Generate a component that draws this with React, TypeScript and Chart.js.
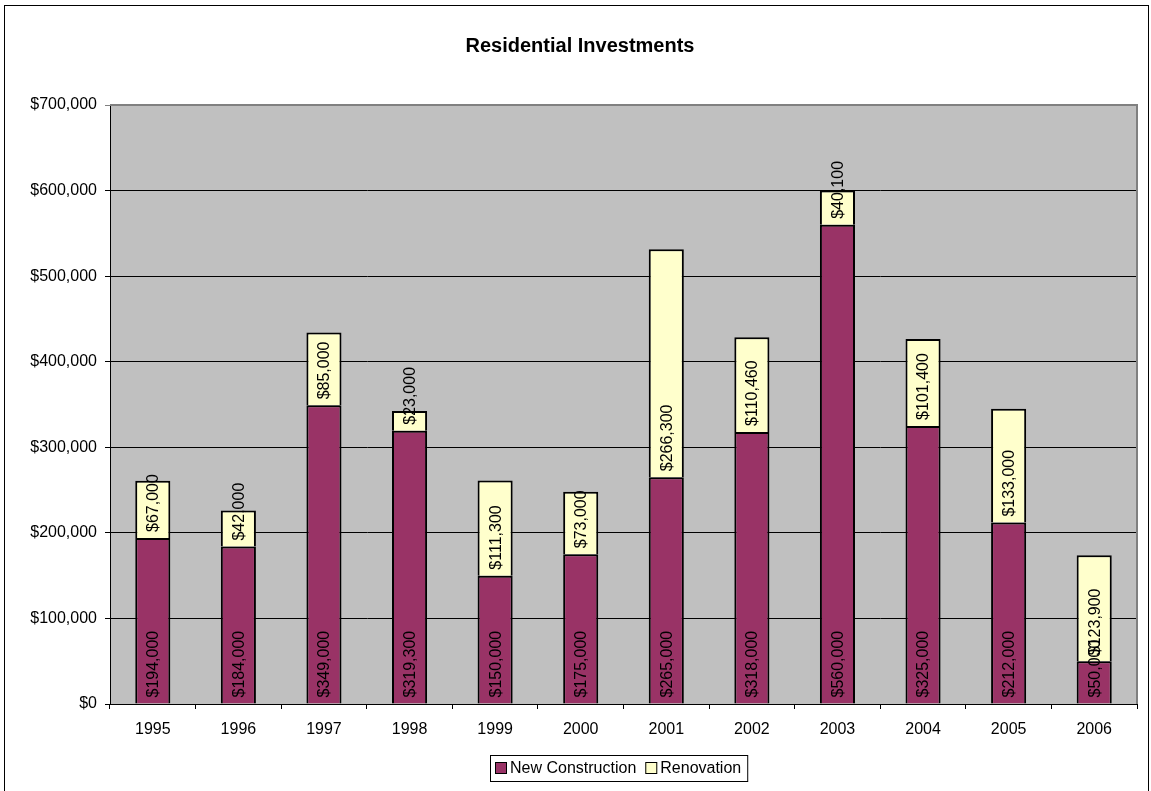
import React, { useEffect, useRef } from "react";
import { Chart, registerables } from "chart.js";

Chart.register(...registerables);

const years = ["1995", "1996", "1997", "1998", "1999", "2000", "2001", "2002", "2003", "2004", "2005", "2006"];
const newConstruction = [194000, 184000, 349000, 319300, 150000, 175000, 265000, 318000, 560000, 325000, 212000, 50000];
const renovation = [67000, 42000, 85000, 23000, 111300, 73000, 266300, 110460, 40100, 101400, 133000, 123900];
const seriesNames = ["New Construction", "Renovation"];
const seriesColors = ["#993366", "#FFFFCC"];
const chartTitle = "Residential Investments";

const FONT = "'Liberation Sans', Arial, sans-serif";
const fmt = (v: number) => "$" + v.toLocaleString("en-US");

const decorPlugin = {
  id: "decor",
  beforeDraw(chart: any) {
    const { ctx, chartArea } = chart;
    ctx.save();
    ctx.fillStyle = "#ffffff";
    ctx.fillRect(0, 0, chart.width, chart.height);
    ctx.fillStyle = "#C0C0C0";
    ctx.fillRect(chartArea.left, chartArea.top, chartArea.right - chartArea.left, chartArea.bottom - chartArea.top);
    ctx.restore();
  },
  afterDatasetsDraw(chart: any) {
    const { ctx } = chart;
    ctx.save();
    ctx.fillStyle = "#000";
    ctx.font = `16px ${FONT}`;
    ctx.textAlign = "left";
    ctx.textBaseline = "middle";
    chart.data.datasets.forEach((ds: any, di: number) => {
      const meta = chart.getDatasetMeta(di);
      meta.data.forEach((bar: any, i: number) => {
        const { x, base } = bar.getProps(["x", "base"], true);
        ctx.save();
        ctx.translate(x, base - 6);
        ctx.rotate(-Math.PI / 2);
        ctx.fillText(fmt(ds.data[i]), 0, 1);
        ctx.restore();
      });
    });
    ctx.restore();
  },
  afterDraw(chart: any) {
    const { ctx, chartArea } = chart;
    ctx.save();
    // plot area gray border (top, right)
    ctx.strokeStyle = "#808080";
    ctx.lineWidth = 2;
    ctx.beginPath();
    ctx.moveTo(chartArea.left, chartArea.top);
    ctx.lineTo(chartArea.right, chartArea.top);
    ctx.lineTo(chartArea.right, chartArea.bottom);
    ctx.stroke();
    // outer border
    ctx.strokeStyle = "#000";
    ctx.lineWidth = 1;
    ctx.strokeRect(4.5, 5.5, 1144, 900);
    // title
    ctx.fillStyle = "#000";
    ctx.font = `bold 20px ${FONT}`;
    ctx.textAlign = "center";
    ctx.textBaseline = "middle";
    ctx.fillText(chartTitle, 580, 46);
    // legend
    ctx.font = `16px ${FONT}`;
    ctx.textAlign = "left";
    const boxX = 490, boxY = 755, boxH = 26;
    let x = boxX + 5;
    const cy = boxY + boxH / 2;
    const items = seriesNames.map((n, i) => ({ n, c: seriesColors[i] }));
    items.forEach((it, i) => {
      ctx.fillStyle = it.c;
      ctx.fillRect(x, cy - 6, 12, 12);
      ctx.strokeStyle = "#000";
      ctx.strokeRect(x + 0.5, cy - 5.5, 11, 11);
      ctx.fillStyle = "#000";
      ctx.fillText(it.n, x + 15, cy + 1);
      x += 15 + ctx.measureText(it.n).width + (i < items.length - 1 ? 9 : 6);
    });
    ctx.strokeStyle = "#000";
    ctx.strokeRect(boxX + 0.5, boxY + 0.5, x - boxX, boxH);
    ctx.restore();
  },
};

export default function App() {
  const ref = useRef<HTMLCanvasElement | null>(null);
  useEffect(() => {
    if (!ref.current) return;
    const chart = new Chart(ref.current, {
      type: "bar",
      data: {
        labels: years,
        datasets: [
          { label: seriesNames[0], data: newConstruction, backgroundColor: seriesColors[0], borderColor: "#000", borderWidth: 2, barPercentage: 0.41, categoryPercentage: 1 },
          { label: seriesNames[1], data: renovation, backgroundColor: seriesColors[1], borderColor: "#000", borderWidth: 2, barPercentage: 0.41, categoryPercentage: 1 },
        ],
      },
      options: {
        animation: false,
        responsive: false,
        maintainAspectRatio: false,
        layout: { padding: { left: 0, top: 105, right: 14, bottom: 0 } },
        plugins: { legend: { display: false }, title: { display: false }, tooltip: { enabled: false } },
        scales: {
          x: {
            stacked: true,
            grid: { display: true, drawOnChartArea: false, offset: true, color: "#000", tickLength: 5 },
            border: { color: "#000" },
            ticks: { color: "#000", font: { size: 16, family: FONT }, padding: 11, maxRotation: 0 },
            afterFit: (s: any) => { s.height = 87; },
          },
          y: {
            stacked: true,
            min: 0,
            max: 700000,
            ticks: { stepSize: 100000, color: "#000", font: { size: 16, family: FONT }, padding: 8, callback: (v: any) => fmt(Number(v)) },
            grid: { color: (c: any) => (c.tick && c.tick.value === 700000 ? "#808080" : "#000"), tickLength: 5 },
            border: { color: "#000" },
            afterFit: (s: any) => { s.width = 110; },
          },
        },
      },
      plugins: [decorPlugin],
    } as any);
    return () => chart.destroy();
  }, []);
  return (
    <div style={{ position: "absolute", left: 0, top: 0, width: 1151, height: 791 }}>
      <canvas ref={ref} width={1151} height={791} style={{ display: "block", width: 1151, height: 791 }} />
    </div>
  );
}
